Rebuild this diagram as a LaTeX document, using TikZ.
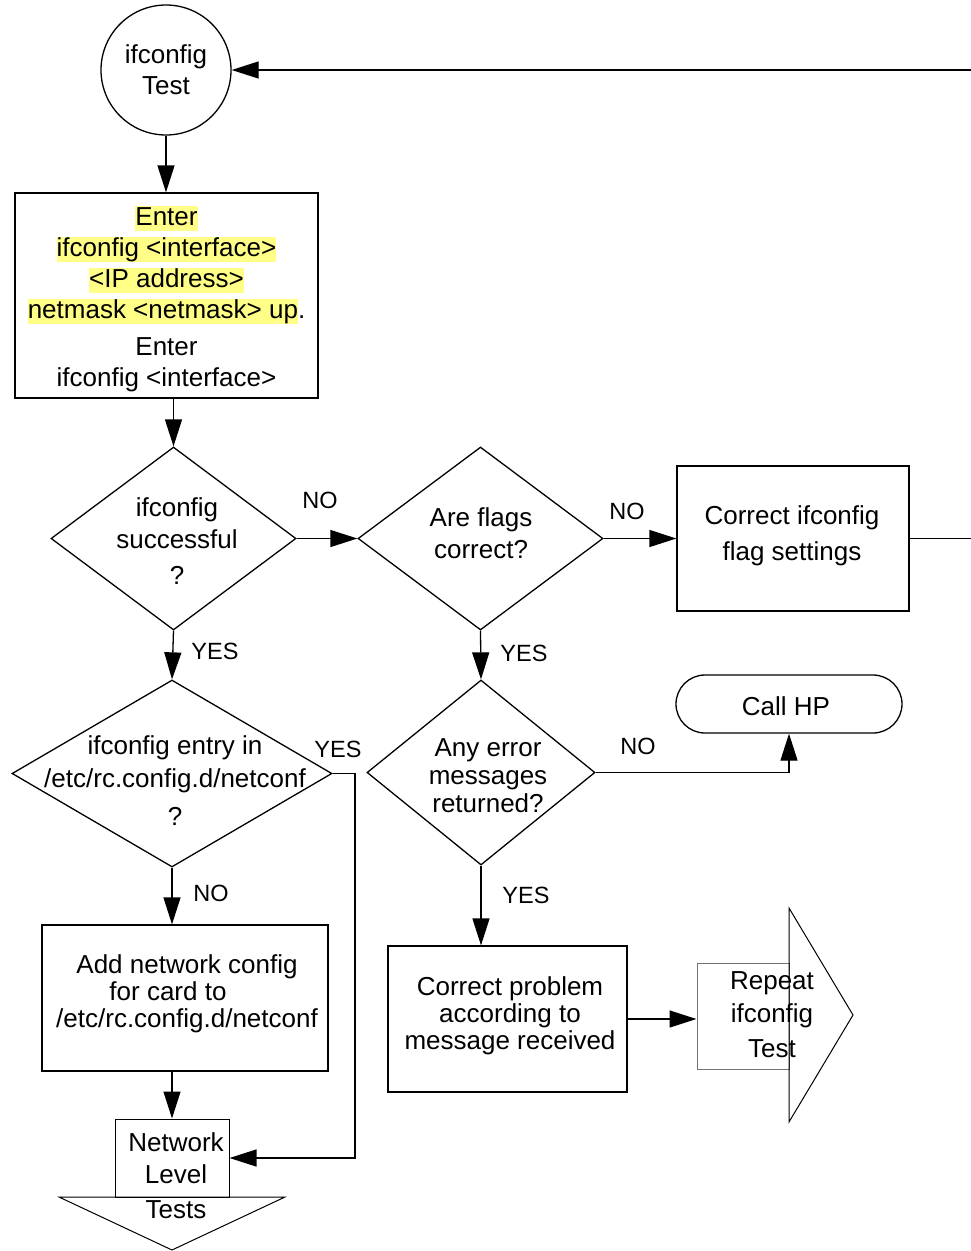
\documentclass[tikz,border=0pt]{standalone}
\usepackage{fontspec}
\setmainfont{Liberation Sans}
\usetikzlibrary{shapes.geometric,arrows.meta}
\definecolor{hl}{HTML}{FFFF88}
\newcommand{\hlt}[1]{{\setlength{\fboxsep}{0pt}\colorbox{hl}{\rule[-5.5pt]{0pt}{25pt}#1}}}
\begin{document}
\begin{tikzpicture}[x=1pt,y=-1pt,line width=1.3pt,
  every node/.style={font=\fontsize{26}{31}\selectfont, inner sep=0pt, align=center},
  arr/.style={-{Triangle[length=27pt,width=17pt]}},
  procbox/.style={draw, rectangle},
  dia/.style={draw, diamond},
  lbl/.style={font=\fontsize{23.5}{28}\selectfont},
  fs/.style={font=\fontsize{26}{#1}\selectfont},
  thinshape/.style={line width=1pt}]
\fill[white] (0,0) rectangle (971,1251);
\useasboundingbox (0,0) rectangle (971,1251);

% shapes
\node[draw, circle, minimum size=130] (c) at (166,70) {ifconfig\\Test};
\node[procbox, minimum width=303, minimum height=205] (b1) at (166.5,295.5) {};
\node[dia, minimum width=245, minimum height=183] (d1) at (173.5,538.5) {};
\node[dia, minimum width=245, minimum height=183] (d2) at (480.5,538.5) {};
\node[procbox, minimum width=232, minimum height=145] (b2) at (793,538.5) {};
\node[dia, minimum width=320, minimum height=187] (d3) at (172,773.5) {};
\node[dia, minimum width=228, minimum height=185] (d4) at (481,772.5) {};
\node[draw, rectangle, rounded corners=29pt, minimum width=226, minimum height=58] (hp) at (789,704) {};
\node[procbox, minimum width=286, minimum height=146] (b3) at (185,998) {};
\node[procbox, minimum width=239, minimum height=146] (b4) at (507.5,1019) {};
\node[draw, rectangle, thinshape, minimum width=114, minimum height=78] (nlt) at (172,1158) {};
\draw[thinshape] (59,1197) -- (285,1197) -- (172,1250) -- cycle;
\node[draw=black!55, rectangle, thinshape, minimum width=92, minimum height=106] (rep) at (743,1016) {};
\draw[thinshape] (789,908) -- (853,1015) -- (789,1122) -- cycle;

% texts
\node[fs=31] (b1t) at (166.5,299)
  {\hlt{Enter}\\ \hlt{ifconfig <interface>}\\ \hlt{<IP address>}\\ \hlt{netmask <netmask> up}.\\[6pt] Enter\\ ifconfig <interface>};
\node[fs=32] (d1t) at (177,541) {ifconfig\\successful\\[4pt]?};
\node[fs=32] (d2t) at (481,533) {Are flags\\correct?};
\node[fs=36] (b2t) at (792,536) {Correct ifconfig\\flag settings};
\node[fs=33] (d3t) at (175,781) {ifconfig entry in\\/etc/rc.config.d/netconf\\[5pt]?};
\node[fs=28] (d4t) at (488,776) {Any error\\messages\\returned?};
\node (hpt) at (786,706) {Call HP};
\node[fs=27] (b3t) at (187,994) {Add network config\\for card to\rule{38pt}{0pt}\\/etc/rc.config.d/netconf};
\node[fs=27] (b4t) at (510,1016) {Correct problem\\according to\\message received};
\node[fs=33] (rept) at (772,1015) {Repeat\\ifconfig\\[2pt]Test};
\node[fs=32] (nltt) at (176,1176) {Network\\Level\\[3pt]Tests};

% labels
\node[lbl] (l1) at (320,500) {NO};
\node[lbl] (l2) at (627,511) {NO};
\node[lbl] (l3) at (215,651) {YES};
\node[lbl] (l4) at (338,749) {YES};
\node[lbl] (l5) at (211,893) {NO};
\node[lbl] (l6) at (524,653) {YES};
\node[lbl] (l7) at (638,746) {NO};
\node[lbl] (l8) at (526,895) {YES};

% connectors
\coordinate (topR) at (971,70);
\coordinate (midR) at (971,538.5);
\coordinate (yc) at (355,773.5);
\draw[arr] (topR) -- (c.east);
\draw[arr] (c.south) -- (c.south |- b1.north);
\draw[arr] (d1.north |- b1.south) -- (d1.north);
\draw[arr] (d1.east) -- (d2.west);
\draw[arr] (d2.east) -- (b2.west);
\draw (b2.east) -- (midR);
\draw[arr] (d1.south) -- (d3.north);
\draw[arr] (d2.south) -- (d4.north);
\draw[arr] (d3.east) -- (yc) |- (nlt.east);
\draw[arr] (d3.south) -- (d3.south |- b3.north);
\draw[arr] (b3.south -| nlt.north) -- (nlt.north);
\draw[arr] (d4.east) -| (hp.south);
\draw[arr] (d4.south) -- (d4.south |- b4.north);
\draw[arr] (b4.east) -- (b4.east -| rep.west);
\end{tikzpicture}
\end{document}
